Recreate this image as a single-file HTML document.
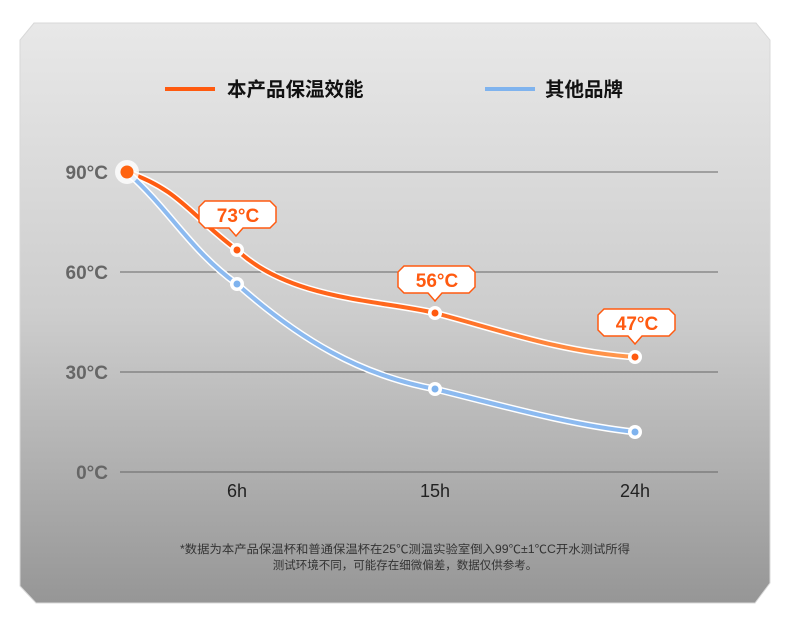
<!DOCTYPE html>
<html><head><meta charset="utf-8"><style>
body{margin:0;width:790px;height:630px;background:#fff;overflow:hidden}
svg{display:block}
</style></head><body>
<svg width="790" height="630" viewBox="0 0 790 630" xmlns="http://www.w3.org/2000/svg" font-family="'Liberation Sans','Noto Sans CJK SC',sans-serif">
<defs>
<linearGradient id="bg" x1="0" y1="0" x2="0" y2="1">
<stop offset="0" stop-color="#e8e8e8"/><stop offset="0.5" stop-color="#cdcdcd"/><stop offset="1" stop-color="#969696"/>
</linearGradient>
<linearGradient id="og" x1="127" y1="0" x2="635" y2="0" gradientUnits="userSpaceOnUse">
<stop offset="0" stop-color="#ff5a10"/><stop offset="0.6" stop-color="#ff6a20"/><stop offset="1" stop-color="#ff9a50"/>
</linearGradient>
</defs>
<polygon points="34,23 756,23 770,40 770,583 755,603 36,603 20,586 20,40" fill="url(#bg)" stroke="#d8d8d8" stroke-width="1"/>
<line x1="165" y1="89" x2="215" y2="89" stroke="#ff5a0f" stroke-width="4"/>
<text x="227" y="96" font-size="19.5" font-weight="bold" fill="#111">本产品保温效能</text>
<line x1="485" y1="89" x2="535" y2="89" stroke="#7fb3ee" stroke-width="4"/>
<text x="545" y="96" font-size="19.5" font-weight="bold" fill="#111">其他品牌</text>
<g stroke="#666" stroke-width="1">
<line x1="120" y1="172" x2="718" y2="172"/><line x1="120" y1="272" x2="718" y2="272"/>
<line x1="120" y1="372" x2="718" y2="372"/><line x1="120" y1="472" x2="718" y2="472"/>
</g>
<g font-size="19" font-weight="bold" fill="#666" text-anchor="end">
<text x="108" y="179">90°C</text><text x="108" y="279">60°C</text>
<text x="108" y="379">30°C</text><text x="108" y="479">0°C</text>
</g>
<g font-size="18" fill="#222" text-anchor="middle">
<text x="237" y="497">6h</text><text x="435" y="497">15h</text><text x="635" y="497">24h</text>
</g>
<path d="M127,172 C180,190 190,215 237,250 C290,300 380,300 435,313 C500,330 560,352 635,357" fill="none" stroke="#fff" stroke-width="7"/>
<path d="M127,172 C180,190 190,215 237,250 C290,300 380,300 435,313 C500,330 560,352 635,357" fill="none" stroke="url(#og)" stroke-width="4"/>
<path d="M127,172 C170,210 190,250 237,284 C300,340 360,375 435,389 C500,405 570,425 635,432" fill="none" stroke="#fff" stroke-width="7"/>
<path d="M127,172 C170,210 190,250 237,284 C300,340 360,375 435,389 C500,405 570,425 635,432" fill="none" stroke="#8cbaf0" stroke-width="4"/>
<circle cx="127" cy="172" r="12" fill="#fff" opacity="0.8"/><circle cx="127" cy="172" r="6.5" fill="#ff6310"/>
<g fill="#fff"><circle cx="237" cy="250" r="7"/><circle cx="435" cy="313" r="7"/><circle cx="635" cy="357" r="7"/>
<circle cx="237" cy="284" r="7"/><circle cx="435" cy="389" r="7"/><circle cx="635" cy="432" r="7"/></g>
<g fill="#ff5a10"><circle cx="237" cy="250" r="3.5"/><circle cx="435" cy="313" r="3.5"/><circle cx="635" cy="357" r="3.5"/></g>
<g fill="#7fb3ee"><circle cx="237" cy="284" r="3.5"/><circle cx="435" cy="389" r="3.5"/><circle cx="635" cy="432" r="3.5"/></g>
<g fill="#fff" stroke="#ff5a10" stroke-width="1.5">
<path d="M205,201 H270 L276,207 V222 L270,228 H243 L236,236 L229,228 H205 L199,222 V207 Z"/>
<path d="M404,266 H469 L475,272 V287 L469,293 H442 L435,301 L428,293 H404 L398,287 V272 Z"/>
<path d="M604,309 H669 L675,315 V330 L669,336 H642 L635,344 L628,336 H604 L598,330 V315 Z"/>
</g>
<g font-size="19" font-weight="bold" fill="#ff5a10" text-anchor="middle">
<text x="238" y="222">73°C</text><text x="437" y="287">56°C</text><text x="637" y="330">47°C</text>
</g>
<g font-size="11.5" fill="#333" text-anchor="middle">
<text x="405" y="553" textLength="450" lengthAdjust="spacingAndGlyphs">*数据为本产品保温杯和普通保温杯在25℃测温实验室倒入99℃±1℃C开水测试所得</text>
<text x="405" y="569">测试环境不同，可能存在细微偏差，数据仅供参考。</text>
</g>
</svg>
</body></html>
